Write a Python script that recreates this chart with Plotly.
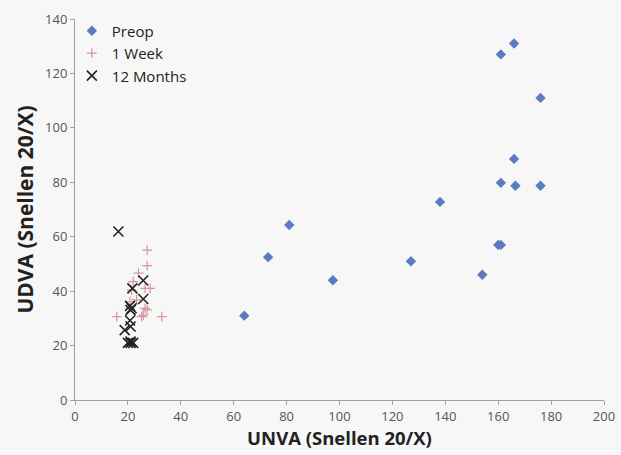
import plotly.graph_objects as go

preop_x = [64, 73, 81, 97.5, 127, 138, 154, 160, 161, 161, 161, 166, 166, 166.5, 176, 176]
preop_y = [31, 52.5, 64.3, 44, 51, 72.8, 46, 57, 57, 79.8, 127, 131, 88.6, 78.7, 111, 78.7]

week_x = [27.3, 27.3, 24, 22, 28.4, 26.5, 21.4, 23.3, 26.5, 27.3, 25.8, 15.8, 32.8, 25.2, 20.8]
week_y = [55.1, 49.4, 46.6, 43.5, 41, 41, 40.4, 36.8, 33.7, 33.1, 31.2, 30.6, 30.6, 30.6, 36.1]

month_x = [16.4, 25.8, 21.7, 25.8, 20.8, 21.4, 21, 20.8, 18.8, 21, 20, 21, 22, 21]
month_y = [61.9, 43.9, 41, 37.1, 34.6, 33.7, 33, 29.2, 25.7, 27, 21, 21, 21, 21.5]

fig = go.Figure()
fig.add_trace(go.Scatter(x=preop_x, y=preop_y, mode="markers", name="Preop",
                         marker=dict(symbol="diamond", size=8, color="#5b7bbf")))
fig.add_trace(go.Scatter(x=week_x, y=week_y, mode="markers", name="1 Week",
                         marker=dict(symbol="cross-thin", size=7, color="rgba(0,0,0,0)",
                                     line=dict(color="#d4959c", width=1.2))))
fig.add_trace(go.Scatter(x=month_x, y=month_y, mode="markers", name="12 Months",
                         marker=dict(symbol="x-thin", size=10, color="rgba(0,0,0,0)",
                                     line=dict(color="#222222", width=1.6))))

font = "Open Sans, Liberation Sans, sans-serif"
fig.update_layout(
    width=621, height=455,
    margin=dict(l=75, r=17, t=19, b=55, autoexpand=False),
    paper_bgcolor="#f7f7f7", plot_bgcolor="#f7f7f7",
    font=dict(family=font, size=13, color="#555555"),
    showlegend=True,
    legend=dict(x=-0.006, y=1.012, xanchor="left", yanchor="top",
                bgcolor="rgba(0,0,0,0)", font=dict(size=15, color="#222222"),
                tracegroupgap=0, itemwidth=30),
    xaxis=dict(range=[0, 200], tickvals=list(range(0, 201, 20)), showgrid=False, zeroline=False,
               showline=True, linecolor="#a0a0a0", linewidth=1, ticks="outside", ticklen=4,
               tickcolor="#a0a0a0", automargin=True,
               title=dict(text="<b>UNVA (Snellen 20/X)</b>", font=dict(size=18.5, color="#222222"), standoff=8)),
    yaxis=dict(range=[0, 140], tickvals=list(range(0, 141, 20)), showgrid=False, zeroline=False,
               showline=True, linecolor="#a0a0a0", linewidth=1, ticks="outside", ticklen=4,
               tickcolor="#a0a0a0", automargin=True,
               title=dict(text="<b>UDVA (Snellen 20/X)</b>", font=dict(size=21, color="#222222"), standoff=5)),
)
fig.write_html("out.html", config={"displayModeBar": False},
               post_script="document.body.style.margin='0';document.body.style.background='#f7f7f7';")
